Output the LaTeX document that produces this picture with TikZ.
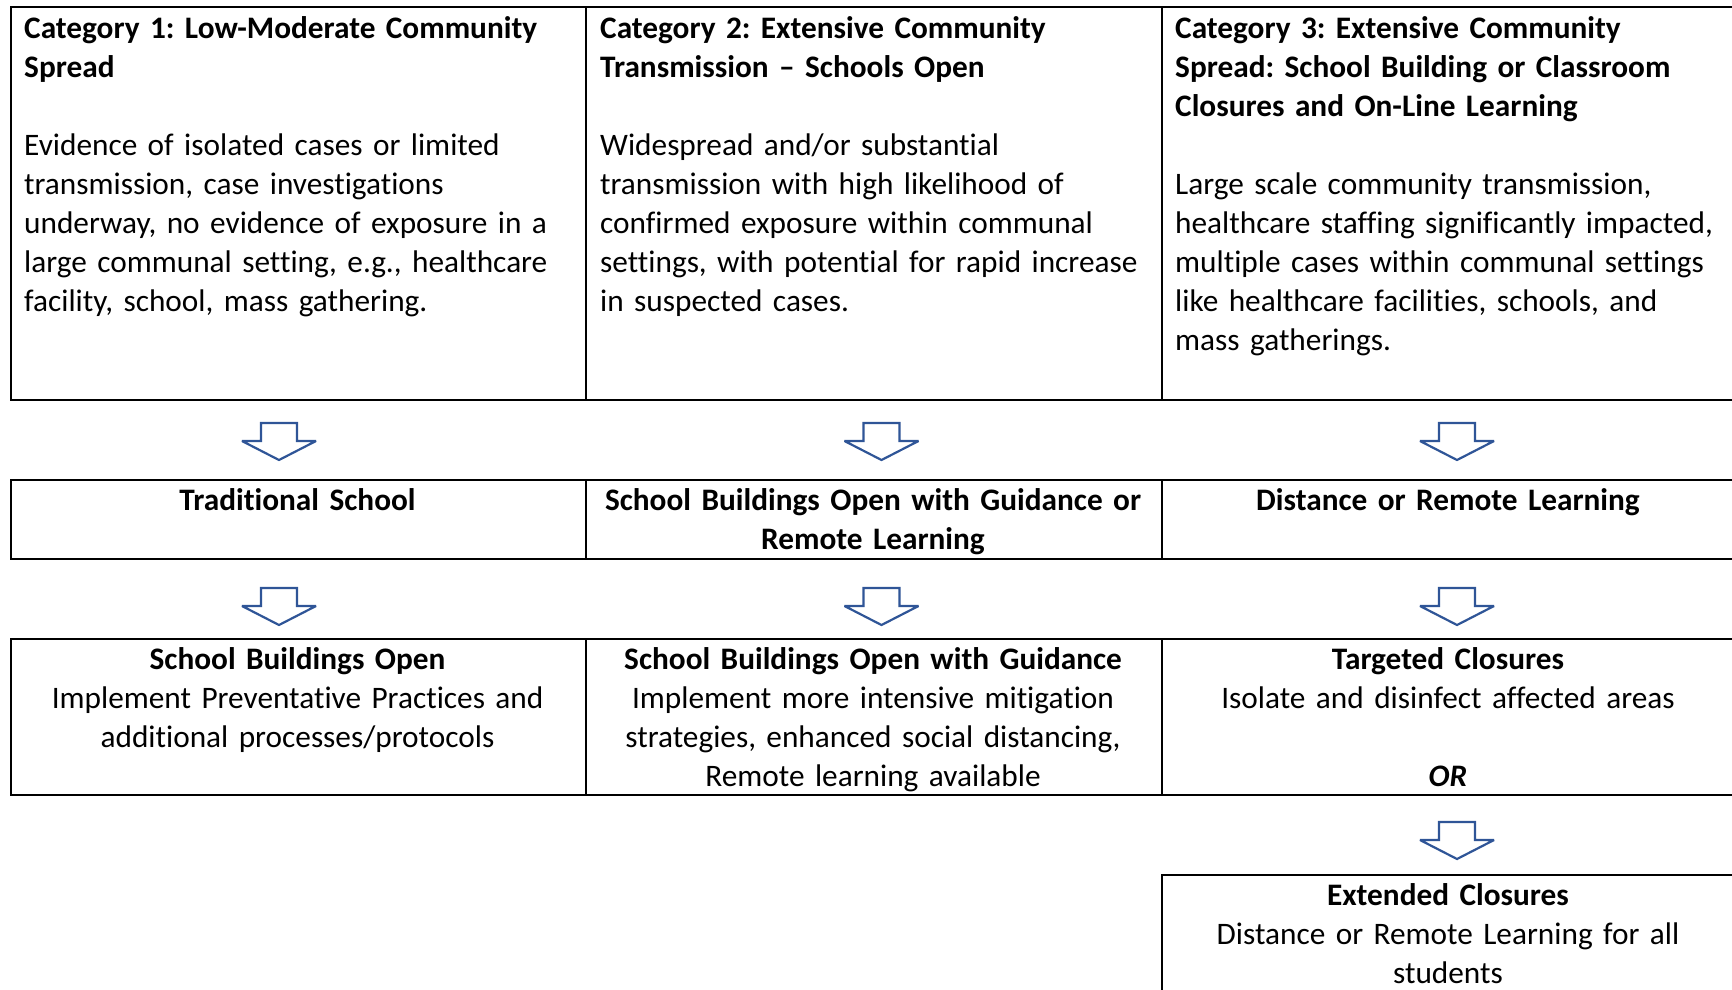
\documentclass[tikz,border=0pt]{standalone}
\usepackage{fontspec}
\setmainfont{Carlito}[Ligatures={NoCommon}]
\definecolor{arrowblue}{RGB}{47,85,151}
\begin{document}
\frenchspacing
\begin{tikzpicture}[x=1pt,y=-1pt,
  cell/.style={draw=black, line width=2pt, rectangle, inner sep=0pt, anchor=north west},
  txt/.style={inner sep=0pt, font=\fontsize{31.3}{39}\selectfont},
  lefttxt/.style={txt, anchor=north west, text width=570pt, align=left},
  ctrtxt/.style={txt, anchor=north, text width=565pt, align=center},
  blockarrow/.style={draw=arrowblue, line width=2.2pt, line join=miter, miter limit=3, fill=white},
  downarrow/.pic={\draw[blockarrow] (-18,0) -- (-18,18) -- (-37,18) -- (0,37) -- (37,18) -- (18,18) -- (18,0) -- cycle;}]
\useasboundingbox (0,0) rectangle (1732,989);
\clip (0,0) rectangle (1732,989);
% cells
\node[cell, minimum width=575pt, minimum height=393pt] (r1c1) at (10,6) {};
\node[cell, minimum width=576pt, minimum height=393pt] (r1c2) at (585,6) {};
\node[cell, minimum width=574pt, minimum height=393pt] (r1c3) at (1161,6) {};
\node[cell, minimum width=575pt, minimum height=79pt] (r2c1) at (10,479) {};
\node[cell, minimum width=576pt, minimum height=79pt] (r2c2) at (585,479) {};
\node[cell, minimum width=574pt, minimum height=79pt] (r2c3) at (1161,479) {};
\node[cell, minimum width=575pt, minimum height=156pt] (r3c1) at (10,638) {};
\node[cell, minimum width=576pt, minimum height=156pt] (r3c2) at (585,638) {};
\node[cell, minimum width=574pt, minimum height=156pt] (r3c3) at (1161,638) {};
\node[cell, minimum width=574pt, minimum height=140pt] (r4c3) at (1161,874) {};
% row 1 text
\node[lefttxt] (t11) at (24,10.9) {\strut\textbf{Category 1: Low-Moderate Community\\Spread}\\[39pt]
Evidence of isolated cases or limited\\transmission, case investigations\\underway, no evidence of exposure in a\\large communal setting, e.g., healthcare\\facility, school, mass gathering.};
\node[lefttxt] (t12) at (600,10.9) {\strut\textbf{Category 2: Extensive Community\\Transmission – Schools Open}\\[39pt]
Widespread and/or substantial\\transmission with high likelihood of\\confirmed exposure within communal\\settings, with potential for rapid increase\\in suspected cases.};
\node[lefttxt] (t13) at (1175,10.9) {\strut\textbf{Category 3: Extensive Community\\Spread: School Building or Classroom\\Closures and On-Line Learning}\\[39pt]
Large scale community transmission,\\healthcare staffing significantly impacted,\\multiple cases within communal settings\\like healthcare facilities, schools, and\\mass gatherings.};
% row 2 text
\node[ctrtxt] (t21) at (297.5,482.7) {\strut\textbf{Traditional School}};
\node[ctrtxt] (t22) at (873,482.7) {\strut\textbf{School Buildings Open with Guidance or\\Remote Learning}};
\node[ctrtxt] (t23) at (1448,482.7) {\strut\textbf{Distance or Remote Learning}};
% row 3 text
\node[ctrtxt] (t31) at (297.5,642.2) {\strut\textbf{School Buildings Open}\\Implement Preventative Practices and\\additional processes/protocols};
\node[ctrtxt] (t32) at (873,642.2) {\strut\textbf{School Buildings Open with Guidance}\\Implement more intensive mitigation\\strategies, enhanced social distancing,\\Remote learning available};
\node[ctrtxt] (t33) at (1448,642.2) {\strut\textbf{Targeted Closures}\\Isolate and disinfect affected areas\\\strut\\\textbf{\textit{OR}}};
% row 4 text
\node[ctrtxt] (t43) at (1448,878.2) {\strut\textbf{Extended Closures}\\Distance or Remote Learning for all\\students};
% arrows
\coordinate (a11) at (279,423);
\coordinate (a12) at (881.5,423);
\coordinate (a13) at (1457,423);
\coordinate (a21) at (279,588);
\coordinate (a22) at (881.5,588);
\coordinate (a23) at (1457,588);
\coordinate (a33) at (1457,822);
\foreach \a in {a11,a12,a13,a21,a22,a23,a33} \pic at (\a) {downarrow};
\end{tikzpicture}
\end{document}
